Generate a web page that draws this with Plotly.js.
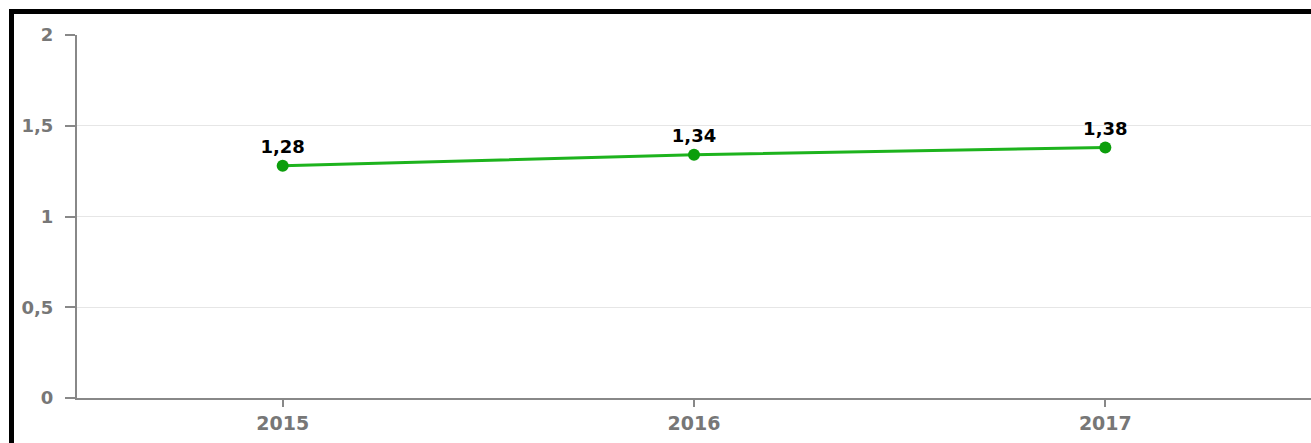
<!DOCTYPE html>
<html>
<head>
<meta charset="utf-8">
<script src="https://cdn.plot.ly/plotly-3.0.1.min.js"></script>
<style>
  html, body { margin: 0; padding: 0; background: #fff; overflow: hidden; }
  #wrap { position: absolute; left: 9px; top: 9px; width: 1302px; height: 434px;
          border-left: 5px solid #000; border-top: 5px solid #000; }
  #chart { width: 1297px; height: 429px; }
</style>
</head>
<body>
<div id="wrap"><div id="chart"></div></div>
<script>
const years = ['2015', '2016', '2017'];
const values = [1.28, 1.34, 1.38];
const yTicks = [0, 0.5, 1, 1.5, 2];

const trace = {
  x: years,
  y: values,
  type: 'scatter',
  mode: 'lines+markers+text',
  line: { color: '#1db31d', width: 3 },
  marker: { color: '#0c9e0c', size: 12 },
  texttemplate: '%{y:.2f}',
  textposition: 'top center',
  textfont: { family: 'DejaVu Sans', size: 18, color: '#000', weight: 'bold' },
  hoverinfo: 'none',
  cliponaxis: false
};

const layout = {
  width: 1297,
  height: 429,
  margin: { l: 63, r: 0, t: 21, b: 45 },
  paper_bgcolor: '#fff',
  plot_bgcolor: '#fff',
  separators: ',.',
  showlegend: false,
  xaxis: {
    type: 'category',
    range: [-0.5, 2.5],
    showgrid: false,
    zeroline: false,
    showline: true,
    linecolor: '#888',
    linewidth: 2,
    ticks: 'outside',
    ticklen: 7,
    tickwidth: 2,
    tickcolor: '#888',
    tickfont: { family: 'DejaVu Sans', size: 19, color: '#777', weight: 'bold' },
    fixedrange: true
  },
  yaxis: {
    range: [0, 2],
    tickvals: yTicks,
    showgrid: true,
    gridcolor: '#e6e6e6',
    gridwidth: 1,
    zeroline: false,
    showline: true,
    linecolor: '#888',
    linewidth: 2,
    ticks: 'outside',
    ticklen: 10,
    tickwidth: 2,
    tickcolor: '#888',
    tickfont: { family: 'DejaVu Sans', size: 18, color: '#777', weight: 'bold' },
    ticklabelstandoff: 8,
    fixedrange: true
  }
};

Plotly.newPlot('chart', [trace], layout, { displayModeBar: false, staticPlot: true });
</script>
</body>
</html>
